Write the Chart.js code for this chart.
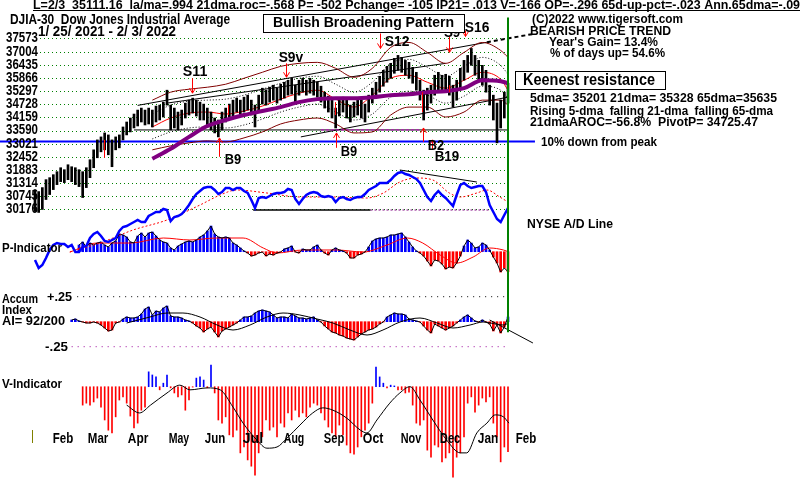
<!DOCTYPE html>
<html>
<head>
<meta charset="utf-8">
<script src="https://cdn.jsdelivr.net/npm/chart.js@4.4.1/dist/chart.umd.min.js"></script>
<style>
  html, body { margin: 0; padding: 0; background: #fff; }
</style>
</head>
<body>
<canvas id="chart" width="800" height="479"></canvas>
<script>
// one sample every 2 sessions, session 0 = 1/25/2021, session 258 = 2/3/2022
const STEP = 2;
const LAST_DAY = 258;

const priceHigh = [
  31037,30951,31123,31467,31553,31682,31811,31983,31897,32112,
  32026,31983,31897,31811,31983,32327,32757,33187,33316,33488,
  33402,33187,33316,33402,33746,33961,34133,34305,34477,34563,
  34477,34563,34477,34649,34692,34821,35337,34692,34563,34391,
  34477,34778,34907,34993,34907,34821,34735,34563,34391,34133,
  34047,34391,34563,34735,34907,34993,34907,35036,35122,34907,
  34692,35122,35423,35337,35466,35552,35423,35595,35681,35767,
  35853,35552,35767,35853,35767,35853,35767,35681,35509,35251,
  35079,34907,34563,34907,35036,34907,34692,34821,34993,34907,
  34735,35122,35423,35681,35939,36197,36369,36498,36713,36842,
  36756,36627,36541,36326,36111,35767,35337,35423,35552,35982,
  36111,35982,36025,35939,35552,35767,36283,36627,36842,37143,
  36842,36627,36412,36197,35552,35122,34778,34907,35251,35638
];
const priceLow = [
  30091,30048,30177,30607,30822,31037,31252,31381,31338,31467,
  31381,31252,31166,30693,31123,31553,31983,32413,32671,32757,
  32542,32026,32757,32843,33187,33402,33531,33703,33789,33961,
  33832,33875,33746,33961,34047,34176,34692,33617,33703,33617,
  33832,34133,34262,34348,34219,34047,34047,33832,33617,33488,
  33316,33617,33961,34133,34219,34391,34262,34391,34477,34262,
  33746,34391,34735,34692,34821,34907,34778,34907,34993,35122,
  35165,34821,35122,35251,35122,35208,35122,35036,34821,34563,
  34391,34133,33703,34219,34391,34133,33961,34176,34262,34133,
  33961,34391,34778,35036,35251,35509,35681,35853,36068,36197,
  36111,35982,35853,35638,35337,34907,34047,34477,34778,35122,
  35337,35251,35337,35122,34606,34907,35423,35767,36111,36412,
  35982,35767,35552,35251,34692,34047,33058,33703,34133,34778
];
const adLine = [
  10,2,5,12,20,25,27,26,26,23,
  25,18,18,23,24,32,36,38,34,29,
  28,30,32,39,43,44,46,48,50,48,
  48,54,56,58,58,61,60,49,53,54,
  56,60,65,71,76,79,82,83,83,80,
  76,78,82,82,80,82,82,79,77,70,
  62,72,73,72,74,76,77,77,78,81,
  80,71,66,71,75,77,78,77,74,73,
  74,73,68,72,73,71,70,72,73,73,
  76,80,82,84,87,87,87,90,94,97,
  98,96,95,93,91,87,80,73,69,75,
  79,75,72,68,64,75,85,87,84,82,
  83,84,84,78,65,58,51,48,55,62
];
const pIndicator = [
  null,null,null,null,null,null,null,null,null,null,
  null,null,168,243,118,218,168,218,243,168,
  118,218,269,444,419,369,243,218,394,469,
  369,469,494,394,294,243,218,93,43,143,
  193,243,269,243,294,369,419,520,645,444,
  369,344,369,344,218,168,93,18,-33,-108,
  -83,-33,-8,-108,-58,-83,-33,-8,68,93,
  143,-8,-33,68,43,43,118,168,43,-33,
  -83,43,93,43,18,-33,-158,-158,-83,-58,
  -8,118,269,319,344,344,369,419,419,444,
  469,369,243,118,18,-33,-108,-233,-359,-208,
  -233,-309,-434,-384,-409,-284,-108,143,294,218,
  93,118,218,168,43,-133,-284,-510,-409,-502
];
const accumIndex = [
  null,null,null,null,null,null,null,null,null,null,
  .017,.027,.007,-.003,-.013,-.013,-.003,-.013,-.033,-.063,
  -.093,-.083,-.013,-.003,.027,.047,.037,.037,.047,.077,
  .127,.147,.067,.107,.097,.137,.157,.057,.047,.047,
  .037,.017,.007,-.013,-.043,-.063,-.103,-.073,-.053,-.103,
  -.153,-.093,-.073,-.053,-.033,-.013,.017,.047,.047,.057,
  .087,.107,.117,.107,.097,.067,.037,.047,.047,.037,
  .077,.057,.037,.037,.027,.037,.047,.017,-.003,-.043,
  -.073,-.103,-.113,-.133,-.143,-.163,-.173,-.183,-.153,-.123,
  -.103,-.083,-.073,-.053,-.023,-.003,.047,.067,.087,.077,
  .077,.067,.027,.017,.007,-.003,-.043,-.083,-.113,-.023,
  -.043,-.063,-.083,-.063,-.043,-.013,.017,.047,.067,.037,
  .007,-.003,.017,-.003,-.023,-.093,-.033,-.113,-.053,.047
];
const vIndicator = [
  null,null,null,null,null,null,null,null,null,null,
  null,null,null,-47,-42,-47,-39,-29,-52,-85,
  -111,-118,-77,-34,-26,-42,-75,-105,-93,-60,
  -52,38,30,25,-8,9,30,-3,-16,-26,
  -21,-60,-34,-1,22,25,17,-3,55,-16,
  -85,-93,-77,-123,-128,-111,-169,-154,-187,-203,
  -226,-169,-128,-85,-111,-103,-128,-93,-103,-67,
  -85,-60,-77,-67,-77,-52,-42,-47,-67,-85,
  -103,-118,-128,-98,-123,-149,-169,-172,-154,-128,
  -111,-93,-42,50,25,9,-3,4,2,-8,
  -8,-16,-14,-47,-93,-98,-85,-162,-180,-149,
  -154,-192,-182,-169,-231,-180,-169,-128,-42,-26,
  -65,-47,-29,-39,-26,-93,-128,-192,-154,-166
];

// moving averages and bands of the price panel
const maDays   = [64,74,84,94,104,114,124,134,144,154,164,174,184,194,204,214,224,234,244,254,258];
const ma21     = [33746,34133,34348,34391,34305,34434,34649,34950,35208,35337,34950,34606,35122,35853,35982,35681,35423,35767,36111,35810,35337];
const ma65     = [32370,32800,33316,33789,34047,34262,34434,34606,34821,34950,34993,34993,35036,35122,35165,35251,35294,35423,35767,35724,35638];
const bandUp   = [34907,35251,35380,35466,35595,35853,36111,36369,36498,36541,36283,35896,36283,37186,37401,36971,36498,36971,37401,37057,36756];
const bandLow  = [32757,32929,33058,33144,33101,33273,33531,33875,34047,34133,33875,33488,33531,34262,34606,34606,34176,34391,34907,34907,34692];
const dotUp    = [34305,34692,34864,34907,34950,35122,35380,35638,35853,35939,35595,35251,35681,36498,36670,36326,35939,36369,36756,36412,36025];
const dotLow   = [33230,33531,33703,33746,33703,33832,34090,34391,34606,34735,34391,34047,34305,35036,35294,35122,34778,35079,35509,35337,34993];

const adMaDays = [19,35.5,53.5,72,90,101,110,126.5,144.5,162.5,181,190,199,208,217,226,232,241,246.5,253.5,258];
const adMa     = [18,27,40,50,65,75,80,77,73,73,72,77,88,92,90,77,73,77,80,73,68];
const piMaDays = [19,34,52,70,84.5,99,113.5,124.5,132,146,164.5,179,192,203,211.5,221,230,239,248,255.5,258.5];
const piMa     = [-8,218,218,344,294,344,344,93,-33,43,43,-8,168,344,218,-83,-284,-133,93,43,-8];
const aiMaDays = [50,62.7,72,80.7,90,99.3,108,117.3,126.5,135.3,144.5,153.8,162.5,171.8,181.1,189.8,199.1,210,219.3,228,237.3,244.4,255.3,258.5];
const aiMa     = [-.013,.047,.087,.087,.047,-.033,-.083,-.033,.047,.087,.067,.027,-.013,-.083,-.133,-.083,-.003,.037,-.013,-.063,-.033,-.003,-.033,-.013];
const vMaDays  = [50,57,63,72,79,84.5,94,101,108,113.5,121,126.5,132,137.5,144.5,151.5,157,162.5,170,177.5,181,186.5,193.5,199,204.5,210,217,224.5,232,235.5,241,246.5,251,255.5,258.5];
const vMa      = [-47,-67,-47,-16,4,-8,-3,-8,-52,-93,-136,-157,-154,-131,-98,-67,-54,-60,-80,-111,-118,-85,-42,-16,0,-34,-85,-136,-169,-169,-118,-93,-72,-77,-93];

// trend lines: [day, value] end points
const upperTrend   = [[56,34679],[246.5,37410]];
const upperTrendEx = [[246.5,37410],[271.6,37767]];
const upperTrend2  = [[72,34778],[224,36498]];
const lowerTrend   = [[145,33316],[258,35036]];
const supportLine  = [[54,33617],[258,33617]];
const supportDash  = [[156,33617],[210,33617]];
const tenPctDown   = [[-19.1,33120],[272.7,33120]];
const adFloor      = [[119,60],[183,60]];
const adFloorDash  = [[183,60],[248,60]];
const adTop        = [[199,100],[241,88]];
const aiTrend      = [[248,.017],[271.6,-.213]];
const aiUpper      = [[23,.25],[258.5,.25]];
const aiLower      = [[20,-.25],[258.5,-.25]];

const priceTicks = [37573,37004,36435,35866,35297,34728,34159,33590,33021,32452,31883,31314,30745,30176];
const monthNames = ['Feb','Mar','Apr','May','Jun','Jul','Aug','Sep','Oct','Nov','Dec','Jan','Feb'];
const monthDays  = [15.3,34.4,56.2,78.5,98.2,118.9,141.3,163.1,184.4,205.1,226.4,247.1,267.8];

// signals: name, arrow day, tail price, tip price, label day, label price
const signals = [
  ['S11', 85.6, 35853, 35208, 87.3, 36111],
  ['S9v', 137, 36498, 35896, 139.6, 36713],
  ['S12', 188.2, 37788, 37143, 197.5, 37401],
  ['S9', 225.8, 37659, 36971, 227.5, 37788],
  ['S16', 234.5, 37917, 37659, 241.1, 38003],
  ['B9', 100.4, 32456, 33273, 108, 32327],
  ['B9', 164.2, 32843, 33488, 171.3, 32671],
  ['B2', 211.6, 33101, 33703, 218.7, 32929],
  ['B19', 216.5, 32757, 33187, 224.7, 32456]
];
const minorMarks = [[37.5,33187,32413],[105,34692,34262],[163.6,34821,34262],[211,35251,34391],[226,35552,35251]];

const sampled = vals => vals.map((v, i) => ({x: i * STEP, y: v}));
const paired = (days, vals) => days.map((d, i) => ({x: d, y: vals[i]}));
const ends = pts => pts.map(p => ({x: p[0], y: p[1]}));
const signColors = vals => vals.map(v => v == null ? 'rgba(0,0,0,0)' : (v >= 0 ? '#0000ff' : '#ff0000'));

function line(data, axis, color, width, extra) {
  return Object.assign({type: 'line', data, yAxisID: axis, borderColor: color, borderWidth: width,
    pointRadius: 0, fill: false, clip: false, tension: 0}, extra || {});
}
function bars(data, axis, colors, thick, extra) {
  return Object.assign({type: 'bar', data, yAxisID: axis, backgroundColor: colors, borderWidth: 0,
    barThickness: thick, grouped: false, clip: false}, extra || {});
}
const smooth = {cubicInterpolationMode: 'monotone'};

const FONT = '"Liberation Sans", Arial, sans-serif';
function fitText(ctx, str, left, midY, size, width, align) {
  ctx.save();
  ctx.font = 'bold ' + size + 'px ' + FONT;
  ctx.fillStyle = '#000';
  ctx.textBaseline = 'middle';
  const w = ctx.measureText(str).width;
  const sx = width ? width / w : 1;
  ctx.translate(align === 'center' ? left - w * sx / 2 : left, midY);
  ctx.scale(sx, 1);
  ctx.fillText(str, 0, 0);
  ctx.restore();
}
function seg(ctx, x1, y1, x2, y2, color, width) {
  ctx.save();
  ctx.strokeStyle = color; ctx.lineWidth = width || 1;
  ctx.beginPath(); ctx.moveTo(x1, y1); ctx.lineTo(x2, y2); ctx.stroke();
  ctx.restore();
}

const panelText = [
  ['DJIA-30  Dow Jones Industrial Average', 10, 20, 14, 220],
  ['1/ 25/ 2021 - 2/ 3/ 2022', 38, 32.5, 14, 138],
  ['(C)2022 www.tigersoft.com', 532, 19, 13, 151],
  ['BEARISH PRICE TREND', 530, 31, 13, 141],
  ["Year's Gain= 13.4%", 549, 42, 13, 109],
  ['% of days up= 54.6%', 550, 53, 13, 115],
  ['5dma= 35201 21dma= 35328 65dma=35635', 530, 98.5, 13, 247],
  ['Rising 5-dma  falling 21-dma  falling 65-dma', 530, 111, 13, 243],
  ['21dmaAROC=-56.8%  PivotP= 34725.47', 530, 122.5, 13, 228],
  ['10% down from peak', 541, 142, 13, 116],
  ['NYSE A/D Line', 527, 224, 13, 86],
  ['P-Indicator', 2, 248, 13, 60],
  ['Accum', 2, 299, 13, 36],
  ['Index', 2, 310, 13, 30],
  ['AI= 92/200', 2, 321, 13, 63],
  ['+.25', 47, 297, 13, 25],
  ['-.25', 45, 347, 13, 23],
  ['V-Indicator', 2, 384, 13, 60]
];
const header = 'L=2/3  35111.16  la/ma=.994 21dma.roc=-.568 P= -502 Pchange= -105 IP21= .013 V=-166 OP=-.296 65d-up-pct=-.023 Ann.65dma=-.09';

const decor = {
  id: 'decor',
  beforeDatasetsDraw(chart) {
    const {ctx, chartArea, scales} = chart;
    ctx.save();
    ctx.strokeStyle = '#008000';
    ctx.lineWidth = 1;
    ctx.setLineDash([1, 3]);
    priceTicks.forEach(v => {
      const y = Math.round(scales.yP.getPixelForValue(v)) + 0.5;
      ctx.beginPath(); ctx.moveTo(40, y); ctx.lineTo(chartArea.right, y); ctx.stroke();
    });
    ctx.restore();
  },
  afterDraw(chart) {
    const {ctx, scales} = chart;
    const {x, yP, yAI} = scales;
    // marker at the last session
    const gx = x.getPixelForValue(LAST_DAY);
    seg(ctx, gx, yP.getPixelForValue(38480), gx, yAI.getPixelForValue(-0.105), '#008000', 2);

    // signal arrows
    ctx.save();
    ctx.strokeStyle = '#ff0000'; ctx.lineWidth = 1;
    signals.forEach(s => {
      const ax = Math.round(x.getPixelForValue(s[1])) + 0.5;
      const y1 = yP.getPixelForValue(s[2]), y2 = yP.getPixelForValue(s[3]);
      const d = y2 > y1 ? -1 : 1;
      ctx.beginPath();
      ctx.moveTo(ax, y1); ctx.lineTo(ax, y2);
      ctx.moveTo(ax - 3, y2 + d * 5); ctx.lineTo(ax, y2); ctx.lineTo(ax + 3, y2 + d * 5);
      ctx.stroke();
    });
    minorMarks.forEach(m => {
      const ax = Math.round(x.getPixelForValue(m[0])) + 0.5;
      ctx.beginPath(); ctx.moveTo(ax, yP.getPixelForValue(m[1])); ctx.lineTo(ax, yP.getPixelForValue(m[2])); ctx.stroke();
    });
    ctx.restore();
    signals.forEach(s => fitText(ctx, s[0], x.getPixelForValue(s[4]), yP.getPixelForValue(s[5]), 14, s[0].length * 8.2, 'center'));

    // boxed captions
    ctx.save();
    ctx.fillStyle = '#fff'; ctx.strokeStyle = '#000'; ctx.lineWidth = 1;
    ctx.fillRect(263.5, 14.5, 201, 18); ctx.strokeRect(263.5, 14.5, 201, 18);
    ctx.fillRect(515.5, 71.5, 150, 18); ctx.strokeRect(515.5, 71.5, 150, 18);
    ctx.restore();
    fitText(ctx, 'Bullish Broadening Pattern', 273, 23, 15, 181);
    fitText(ctx, 'Keenest resistance', 523, 80.5, 16, 132);

    // header
    fitText(ctx, header, 33, 5.5, 12, 767);
    seg(ctx, 33, 10.5, 800, 10.5, '#000', 1);

    panelText.forEach(t => fitText(ctx, t[0], t[1], t[2], t[3], t[4]));

    // price scale labels
    priceTicks.forEach(v => fitText(ctx, String(v), 6, yP.getPixelForValue(v), 14, 32));

    // month labels
    monthNames.forEach((m, i) => fitText(ctx, m, x.getPixelForValue(monthDays[i]), 439, 14, 20.5, 'center'));
    seg(ctx, 32.5, 430, 32.5, 443, '#808000', 1);
  }
};

new Chart(document.getElementById('chart'), {
  type: 'bar',
  data: {
    datasets: [
      line(sampled(adLine), 'yAD', '#0000ff', 2.5, {order: 1}),
      line(paired(maDays, ma65), 'yP', '#800080', 4, Object.assign({order: 2}, smooth)),
      bars(priceHigh.map((h, i) => ({x: i * STEP, y: [priceLow[i], h]})), 'yP', '#000', 2, {order: 3}),
      line(paired(maDays, ma21), 'yP', '#ff0000', 1, Object.assign({order: 4}, smooth)),
      line(paired(maDays, bandUp), 'yP', '#800000', 1, Object.assign({order: 5}, smooth)),
      line(paired(maDays, bandLow), 'yP', '#800000', 1, Object.assign({order: 5}, smooth)),
      line(paired(maDays, dotUp), 'yP', '#000', 1, Object.assign({order: 5, borderDash: [1, 2]}, smooth)),
      line(paired(maDays, dotLow), 'yP', '#000', 1, Object.assign({order: 5, borderDash: [1, 2]}, smooth)),
      line(ends(upperTrend), 'yP', '#000', 1, {order: 6}),
      line(ends(upperTrendEx), 'yP', '#000', 2, {order: 6, borderDash: [4, 3]}),
      line(ends(upperTrend2), 'yP', '#000', 1, {order: 6}),
      line(ends(lowerTrend), 'yP', '#000', 1, {order: 6}),
      line(ends(supportLine), 'yP', '#000', 1, {order: 6}),
      line(ends(supportDash), 'yP', '#cc00cc', 1, {order: 5.5, borderDash: [3, 2]}),
      line(ends(tenPctDown), 'yP', '#0000ff', 2, {order: 7}),

      line(paired(adMaDays, adMa), 'yAD', '#ff0000', 1, Object.assign({order: 8, borderDash: [2, 2]}, smooth)),
      line(ends(adFloor), 'yAD', '#000', 1.5, {order: 8}),
      line(ends(adFloorDash), 'yAD', '#800080', 1, {order: 8, borderDash: [2, 2]}),
      line(ends(adTop), 'yAD', '#000', 1, {order: 8}),

      line(sampled(pIndicator), 'yPI', '#000', 1, {order: 9}),
      line(paired(piMaDays, piMa), 'yPI', '#ff0000', 1, Object.assign({order: 9}, smooth)),
      bars(sampled(pIndicator), 'yPI', signColors(pIndicator), 2, {order: 10}),

      line(sampled(accumIndex), 'yAI', '#000', 1, {order: 11}),
      line(paired(aiMaDays, aiMa), 'yAI', '#000', 1, Object.assign({order: 11}, smooth)),
      line(ends(aiTrend), 'yAI', '#000', 1, {order: 11}),
      line(ends(aiUpper), 'yAI', '#000', 1, {order: 11, borderDash: [1, 5]}),
      line(ends(aiLower), 'yAI', '#990099', 1, {order: 11, borderDash: [1, 5]}),
      bars(sampled(accumIndex), 'yAI', signColors(accumIndex), 2, {order: 12}),

      line(paired(vMaDays, vMa), 'yV', '#000', 1, Object.assign({order: 13}, smooth)),
      bars(sampled(vIndicator), 'yV', signColors(vIndicator), 1, {order: 14})
    ]
  },
  options: {
    responsive: false,
    animation: false,
    devicePixelRatio: 1,
    layout: {padding: {left: 35, right: 292, top: 0, bottom: 0}},
    plugins: {legend: {display: false}, tooltip: {enabled: false}},
    scales: {
      x: {type: 'linear', display: false, offset: false, min: 0, max: LAST_DAY},
      yP: {type: 'linear', display: false, min: 18517, max: 39238.5},
      yAD: {type: 'linear', display: false, min: -209, max: 270},
      yPI: {type: 'linear', display: false, min: -5705, max: 6318},
      yAI: {type: 'linear', display: false, min: -1.573, max: 3.217},
      yV: {type: 'linear', display: false, min: -235.7, max: 987.6}
    }
  },
  plugins: [decor]
});
</script>
</body>
</html>
